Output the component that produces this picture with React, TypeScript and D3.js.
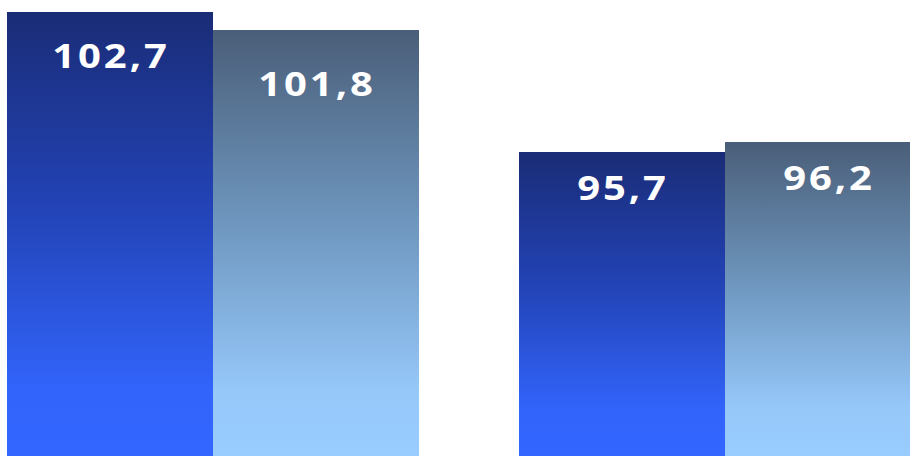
import React from "react";
import * as d3 from "d3";

const groups = ["A", "B"];
const series = ["s1", "s2"];
const valuesS1 = [102.7, 95.7];
const valuesS2 = [101.8, 96.2];
const labelOffsets = [[56, 66], [48, 48]];

const W = 910;
const H = 456;

export default function App() {
  const x0 = d3.scaleBand<string>().domain(groups).range([7, 931]).paddingInner(100 / 512);
  const x1 = d3.scaleBand<string>().domain(series).range([0, x0.bandwidth()]);
  const y = d3.scaleLinear().domain([80.5, 103.3]).range([H, 0]);
  const fmt = (v: number) => d3.format(".1f")(v).replace(".", ",");

  const rows = groups.map((g, i) => ({ g, vals: [valuesS1[i], valuesS2[i]] }));

  return (
    <div style={{ position: "absolute", left: 0, top: 0, width: W, height: H, overflow: "hidden" }}>
      <svg width={W} height={H} style={{ display: "block" }}>
        <defs>
          <linearGradient id="gs1" x1="0" y1="0" x2="0" y2="1">
            <stop offset="0" stopColor="#1a2c76" />
            <stop offset="0.45" stopColor="#2344b8" />
            <stop offset="0.85" stopColor="#3264fb" />
            <stop offset="1" stopColor="#3366ff" />
          </linearGradient>
          <linearGradient id="gs2" x1="0" y1="0" x2="0" y2="1">
            <stop offset="0" stopColor="#4a5e78" />
            <stop offset="0.45" stopColor="#6e96be" />
            <stop offset="0.85" stopColor="#96c8fa" />
            <stop offset="1" stopColor="#99ccff" />
          </linearGradient>
        </defs>
        {rows.map((r, gi) => (
          <g key={r.g} transform={`translate(${x0(r.g)},0)`}>
            {series.map((s, si) => {
              const v = r.vals[si];
              const bx = x1(s)!;
              const bw = x1.bandwidth();
              const cx = bx + bw / 2 + 1;
              const ty = y(v) + labelOffsets[gi][si];
              return (
                <g key={s}>
                  <rect x={bx} y={y(v)} width={bw} height={H - y(v)} fill={`url(#g${s})`} />
                  <text
                    transform={`translate(${cx},${ty}) scale(1.16,1)`}
                    textAnchor="middle"
                    fill="#ffffff"
                    style={{ fontFamily: "'Open Sans', sans-serif", fontWeight: 700, fontSize: 34.5, letterSpacing: 2.5 }}
                  >
                    {fmt(v)}
                  </text>
                </g>
              );
            })}
          </g>
        ))}
      </svg>
    </div>
  );
}
